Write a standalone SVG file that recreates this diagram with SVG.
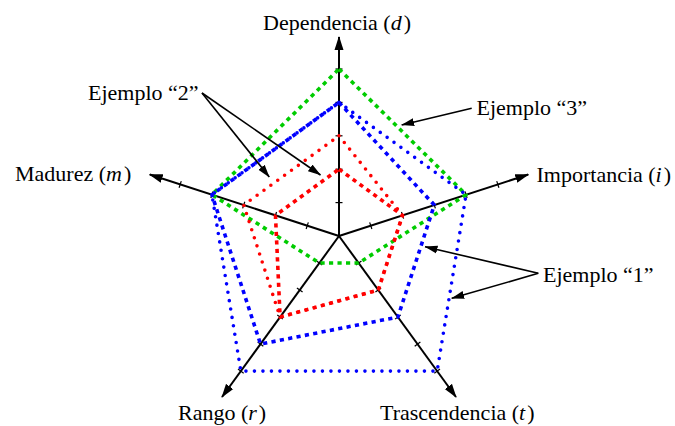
<svg xmlns="http://www.w3.org/2000/svg" width="675" height="426" viewBox="0 0 675 426">
<style>
  text { font-family: "Liberation Serif", "Times New Roman", serif; font-size: 22px; fill: #000; }
  .it { font-style: italic; }
  .axis { stroke: #000; stroke-width: 2; fill: none; }
  .tick { stroke: #000; stroke-width: 1.2; }
  .ann { stroke: #000; stroke-width: 1.6; fill: none; }
  .poly { fill: none; stroke-width: 3.6; stroke-linejoin: round; }
  .round { stroke-linecap: round; stroke-dasharray: 0 8.5; }
  .square { stroke-linecap: butt; stroke-dasharray: 4.2 4.3; }
</style>
<defs>
  <marker id="axhead" markerUnits="userSpaceOnUse" markerWidth="14" markerHeight="10" viewBox="0 0 14 10" refX="13" refY="5" orient="auto">
    <path d="M0,0.5 L14,5 L0,9.5 Z" fill="#000"/>
  </marker>
  <marker id="annhead" markerUnits="userSpaceOnUse" markerWidth="13" markerHeight="9" viewBox="0 0 13 9" refX="12.5" refY="4.5" orient="auto">
    <path d="M0,0.5 L13,4.5 L0,8.5 Z" fill="#000"/>
  </marker>
  <g id="axisproto">
    <line class="axis" x1="0" y1="0" x2="0" y2="-199" marker-end="url(#axhead)"/>
    <line class="tick" x1="-3.5" y1="-33.4" x2="3.5" y2="-33.4"/>
    <line class="tick" x1="-3.5" y1="-66.8" x2="3.5" y2="-66.8"/>
    <line class="tick" x1="-3.5" y1="-100.2" x2="3.5" y2="-100.2"/>
    <line class="tick" x1="-3.5" y1="-133.6" x2="3.5" y2="-133.6"/>
    <line class="tick" x1="-3.5" y1="-167" x2="3.5" y2="-167"/>
  </g>
</defs>

<g id="axes" transform="translate(339,236)">
  <use id="axis-d" href="#axisproto"/>
  <use id="axis-i" href="#axisproto" transform="rotate(72)"/>
  <use id="axis-t" href="#axisproto" transform="rotate(144)"/>
  <use id="axis-r" href="#axisproto" transform="rotate(216)"/>
  <use id="axis-m" href="#axisproto" transform="rotate(288)"/>
</g>

<g id="example3-green">
  <polygon class="poly square" stroke="#00cc00" points="339,69 466.06,194.72 358.63,263.02 319.37,263.02 211.94,194.72"/>
</g>
<g id="example1-blue-outer">
  <polygon class="poly round" stroke="#0000ff" points="339,102.4 466.06,194.72 437.15,371.1 240.85,371.1 211.94,194.72"/>
</g>
<g id="example1-blue-inner">
  <polygon class="poly square" stroke="#0000ff" points="339,102.4 434.3,205.04 397.9,317.06 260.5,344.08 211.94,194.72"/>
</g>
<g id="example2-red-outer">
  <polygon class="poly round" stroke="#ff0000" points="339,135.8 402.53,215.36 378.26,290.04 280.1,317.06 243.7,205.04"/>
</g>
<g id="example2-red-inner">
  <polygon class="poly square" stroke="#ff0000" points="339,169.2 402.53,215.36 378.26,290.04 280.1,317.06 275.47,215.36"/>
</g>

<g id="axis-labels">
  <g id="label-d"><text x="263" y="30">Dependencia (<tspan class="it">d</tspan><tspan dx="2">)</tspan></text></g>
  <g id="label-i"><text x="536.5" y="182">Importancia (<tspan class="it">i</tspan><tspan dx="2">)</tspan></text></g>
  <g id="label-t"><text x="380" y="420">Trascendencia (<tspan class="it">t</tspan><tspan dx="2">)</tspan></text></g>
  <g id="label-r"><text x="178" y="420">Rango (<tspan class="it">r</tspan><tspan dx="2">)</tspan></text></g>
  <g id="label-m"><text x="15" y="180.5">Madurez (<tspan class="it">m</tspan><tspan dx="2">)</tspan></text></g>
</g>

<g id="example-labels">
  <g id="label-ej2"><text x="88" y="100">Ejemplo “2”</text></g>
  <g id="label-ej3"><text x="476.5" y="115">Ejemplo “3”</text></g>
  <g id="label-ej1"><text x="543" y="281.5">Ejemplo “1”</text></g>
</g>

<g id="connectors">
  <line class="ann" x1="202" y1="93" x2="269.3" y2="177" marker-end="url(#annhead)"/>
  <line class="ann" x1="202" y1="93" x2="320.5" y2="175" marker-end="url(#annhead)"/>
  <line class="ann" x1="471.7" y1="108.3" x2="401.7" y2="125" marker-end="url(#annhead)"/>
  <line class="ann" x1="538.3" y1="273.3" x2="425" y2="246.7" marker-end="url(#annhead)"/>
  <line class="ann" x1="538.3" y1="273.3" x2="451.7" y2="298.3" marker-end="url(#annhead)"/>
</g>
</svg>
